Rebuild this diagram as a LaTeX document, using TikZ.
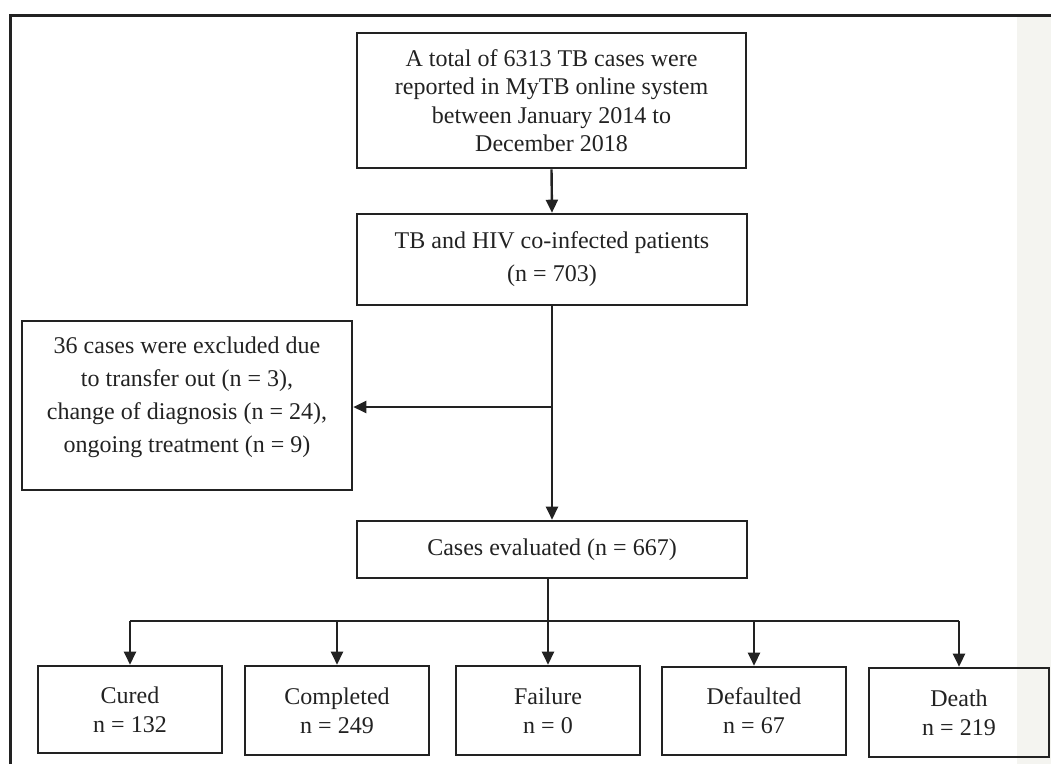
\documentclass[tikz,border=0pt]{standalone}
\usepackage{fontspec}
\setmainfont{Liberation Serif}
\usetikzlibrary{arrows.meta}
\definecolor{ink}{HTML}{222222}
\definecolor{band}{HTML}{F4F4F0}
\begin{document}
\begin{tikzpicture}[x=1pt,y=-1pt,
  box/.style={draw=ink, line width=2.6pt, rectangle, align=center, inner sep=0pt,
    font=\fontsize{24}{29}\selectfont, text=ink},
  conn/.style={draw=ink, line width=2.4pt},
  arr/.style={conn, -{Triangle[length=13pt,width=12pt]}}]
\useasboundingbox (0,0) rectangle (1051,764);
\fill[band] (1017,17) rectangle (1051,764);
\draw[ink, line width=3pt] (10,764) -- (10,15) -- (1051,15);

\node[box, minimum width=389pt, minimum height=135pt, font=\fontsize{24}{28.5}\selectfont] (top) at (551.5,100.5)
  {A total of 6313 TB cases were\\reported in MyTB online system\\between January 2014 to\\December 2018};
\node[box, minimum width=390pt, minimum height=91pt, font=\fontsize{24}{33}\selectfont] (coinf) at (552,259.5)
  {TB and HIV co-infected patients\\(n = 703)};
\node[box, minimum width=330pt, minimum height=169pt, font=\fontsize{24}{33}\selectfont] (excl) at (187,405.5)
  {\raisebox{0pt}[\height][\dimexpr\depth+19pt\relax]{\begin{tabular}{@{}c@{}}36 cases were excluded due\\to transfer out (n = 3),\\change of diagnosis (n = 24),\\ongoing treatment (n = 9)\end{tabular}}};
\node[box, minimum width=390pt, minimum height=57pt] (cases) at (552,549.5)
  {Cases evaluated (n = 667)};

\node[box, minimum width=184pt, minimum height=87pt] (cured) at (130,709.5) {Cured\\n = 132};
\node[box, minimum width=184pt, minimum height=89pt] (compl) at (337,710.5) {Completed\\n = 249};
\node[box, minimum width=184pt, minimum height=89pt] (fail) at (548,710.5) {Failure\\n = 0};
\node[box, minimum width=184pt, minimum height=88pt] (deflt) at (754,711) {Defaulted\\n = 67};
\node[box, minimum width=180pt, minimum height=89pt] (death) at (959,712.5) {Death\\n = 219};

\coordinate (split) at (552,407);
\coordinate (barL) at (130,621);
\coordinate (barR) at (959,621);

\draw[arr] (top.south) -- (coinf.north);
\draw[arr] (coinf.south) -- (cases.north);
\draw[arr] (split) -- (excl.east |- split);
\draw[conn] (barL) -- (barR);
\draw[conn] (cases.south -| fail.north) -- (fail.north |- barL);
\draw[arr] (barL) -- (cured.north);
\draw[arr] (compl.north |- barL) -- (compl.north);
\draw[arr] (fail.north |- barL) -- (fail.north);
\draw[arr] (deflt.north |- barL) -- (deflt.north);
\draw[arr] (barR) -- (death.north);
\end{tikzpicture}
\end{document}
